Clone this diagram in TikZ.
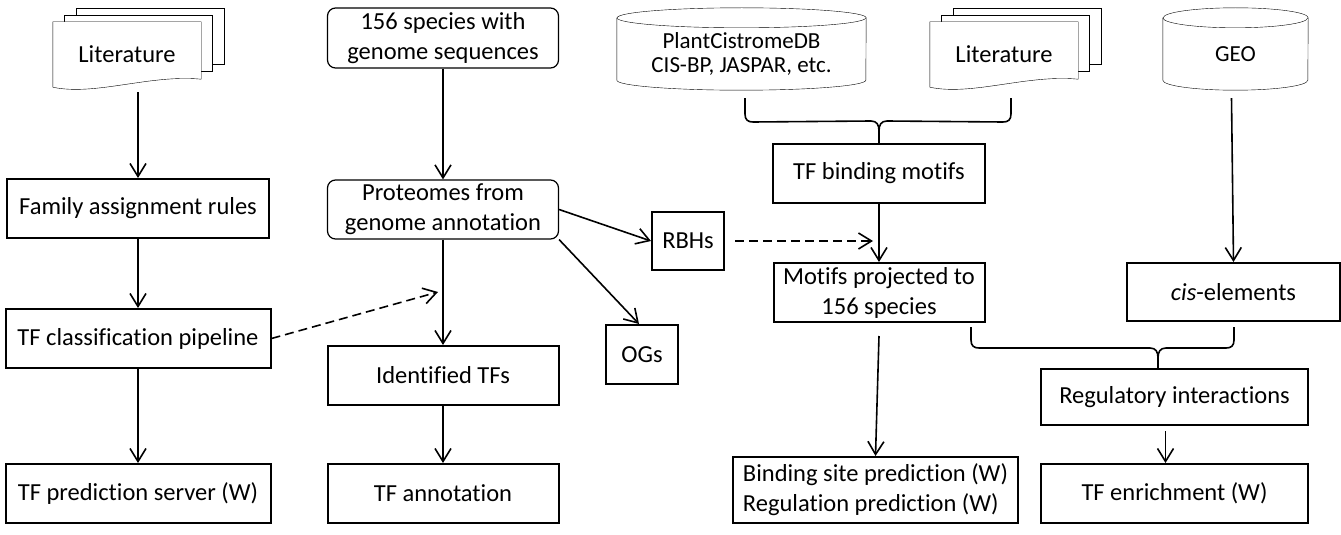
\documentclass[tikz,border=0pt]{standalone}
\usepackage{fontspec}
\setmainfont{Carlito}[Ligatures=NoCommon]
\usepackage{tikz}
\usetikzlibrary{arrows.meta,backgrounds}
\tikzset{>={Straight Barb[length=13pt,width=16pt]}}

\begin{document}
\begin{tikzpicture}[x=1pt,y=-1pt]
			\tikzset{edge/.style = {->, line width=1.6pt}}
			\tikzset{dashedge/.style = {edge, dash pattern=on 9pt off 5pt}}
			\tikzset{brace/.style = {line width=1.6pt}}
			\tikzset{box/.style = {draw, line width=2pt, align=center, inner sep=0pt, minimum height=59pt}}
			\tikzset{roundbox/.style = {draw, line width=1.2pt, rounded corners=8pt, align=center, inner sep=0pt, minimum width=231pt, minimum height=60pt}}
			\tikzset{doc/.style = {minimum width=148pt, minimum height=65pt, inner sep=0pt}}
			\tikzset{db/.style = {minimum height=72pt, inner sep=0pt, align=center, font=\fontsize{23}{24.5}\selectfont}}

			\fontsize{24.5}{30}\selectfont
			\useasboundingbox (0,0) rectangle (1341,535);

			\node[doc] (lit1) at (127,54.5) {Literature};
			\node[doc] (lit2) at (1004,54.5) {Literature};
			\node[db, minimum width=249pt] (pcdb) at (741.5,54) {PlantCistromeDB\\CIS-BP, JASPAR, etc.};
			\node[db, minimum width=145pt] (geo) at (1235.5,54) {GEO};

			\node[box, minimum width=262pt] (fam) at (138,208.5) {Family assignment rules};
			\node[box, minimum width=265pt] (cls) at (138,338.5) {TF classification pipeline};
			\node[box, minimum width=265pt] (srv) at (138,493.5) {TF prediction server (W)};
			\node[roundbox] (sp) at (443,38) {156 species with\\genome sequences};
			\node[roundbox, minimum height=59pt] (prot) at (443,209.5) {Proteomes from\\genome annotation};
			\node[box, minimum width=231pt] (idtf) at (443,375.5) {Identified TFs};
			\node[box, minimum width=231pt] (ann) at (443,493.5) {TF annotation};
			\node[box, minimum width=72pt, minimum height=58pt] (rbh) at (688,241) {RBHs};
			\node[box, minimum width=72pt] (og) at (642,354.5) {OGs};
			\node[box, minimum width=212pt] (tfbm) at (879,173.5) {TF binding motifs};
			\node[box, minimum width=211pt] (mot) at (879,292.5) {Motifs projected to\\156 species};
			\node[box, minimum width=213pt, minimum height=58pt] (cis) at (1233.5,292) {\textit{cis}-elements};
			\node[box, minimum width=285pt, minimum height=66pt, align=left] (bsp) at (875.5,490) {Binding site prediction (W)\\Regulation prediction (W)};
			\node[box, minimum width=267pt, minimum height=56pt] (reg) at (1174.5,397) {Regulatory interactions};
			\node[box, minimum width=267pt] (enr) at (1174.5,493.5) {TF enrichment (W)};

			\begin{scope}[on background layer]
				\foreach \d in {lit1,lit2} {
					\draw[fill=white] ([shift={(23,-14)}]\d.north west) rectangle ++(148,56);
					\draw[fill=white] ([shift={(11,-7)}]\d.north west) rectangle ++(148,56);
					\draw[fill=white] (\d.south west) -- (\d.north west) -- (\d.north east) -- ([yshift=8pt]\d.south east) .. controls +(-51,-5) and +(42,9) .. (\d.south west) -- cycle;
				}
				\foreach \c/\r in {pcdb/124.5, geo/72.5} {
					\draw[fill=white] (\c.north west) -- ([yshift=10pt]\c.south west) arc[start angle=180, end angle=360, x radius=\r pt, y radius=10pt] -- (\c.north east) arc[start angle=0, end angle=180, x radius=\r pt, y radius=10pt];
					\draw (\c.north west) arc[start angle=180, end angle=360, x radius=\r pt, y radius=10pt];
				}
			\end{scope}

			\coordinate (clsend) at (438,292);
			\coordinate (rbhend) at (873,241);
			\coordinate (br1l) at (745,98);
			\coordinate (br1r) at (1011,98);
			\coordinate (br2l) at (971,327);
			\coordinate (br2r) at (1234,327);
			\coordinate (br2tip) at (1158,368);

			\draw[edge] ([xshift=11pt,yshift=-5pt]lit1.south) -- (fam);
			\draw[edge] (fam) -- (cls);
			\draw[edge] (cls) -- (srv);
			\draw[edge] (sp) -- (prot);
			\draw[edge] (prot) -- (idtf);
			\draw[edge] (idtf) -- (ann);
			\draw[dashedge] (cls.east) -- (clsend);
			\draw[edge] (prot.east) -- (rbh.west);
			\draw[edge] (prot.south east) -- ([xshift=-3pt]og.north);
			\draw[dashedge] ([xshift=10pt]rbh.east) -- (rbhend);
			\draw[edge] (tfbm) -- (mot);
			\draw[edge] ([yshift=-13pt]mot.south) -- (bsp.north);
			\draw[edge] ([xshift=-4pt,yshift=-8pt]geo.south) -- (cis.north);
			\draw[edge] ([xshift=-9pt,yshift=-5pt]reg.south) -- ([xshift=-9pt]enr.north);

			% braces
			\draw[brace] (br1l) -- ++(0,16) .. controls +(0,6) and +(-5,0) .. ++(8,8) -- ([xshift=-8pt,yshift=22pt]tfbm.north) .. controls +(6,0) and +(0,-6) .. ([yshift=12pt]tfbm.north) -- (tfbm.north);
			\draw[brace] (br1r) -- ++(0,16) .. controls +(0,6) and +(5,0) .. ++(-8,8) -- ([xshift=8pt,yshift=22pt]tfbm.north) .. controls +(-6,0) and +(0,-6) .. ([yshift=12pt]tfbm.north);
			\draw[brace] (br2l) -- ++(0,13) .. controls +(0,6) and +(-5,0) .. ++(8,8) -- ([xshift=-8pt,yshift=20pt]br2tip) .. controls +(6,0) and +(0,-6) .. ([yshift=10pt]br2tip) -- (br2tip);
			\draw[brace] (br2r) -- ++(0,13) .. controls +(0,6) and +(5,0) .. ++(-8,8) -- ([xshift=8pt,yshift=20pt]br2tip) .. controls +(-6,0) and +(0,-6) .. ([yshift=10pt]br2tip);
		\end{tikzpicture}
\end{document}
